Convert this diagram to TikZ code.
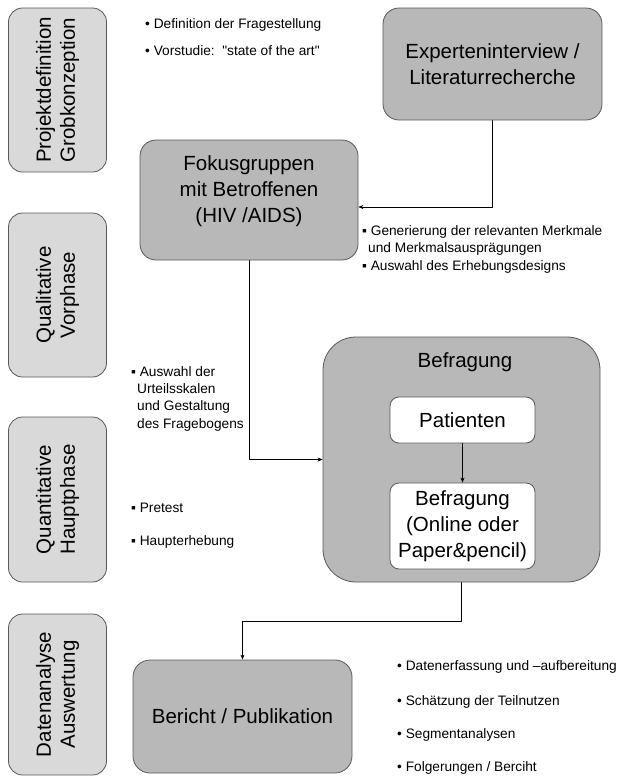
\documentclass[tikz,border=0pt]{standalone}
\usepackage{fontspec}
\setmainfont{Liberation Sans}
\usetikzlibrary{arrows.meta}
\definecolor{phasegray}{gray}{0.85}
\definecolor{blockgray}{gray}{0.72}
\definecolor{framegray}{gray}{0.35}
\newcommand{\bigtext}{\fontsize{20.5}{26}\selectfont}
\newcommand{\phasetext}{\fontsize{20.5}{24}\selectfont}
\newcommand{\smalltext}{\fontsize{13.7}{17.3}\selectfont}

\begin{document}
\begin{tikzpicture}[x=1pt,y=-1pt,line cap=round,line join=round,
    phase/.style={draw=framegray,fill=phasegray,line width=0.8pt,rounded corners=14pt,
      rotate=90,align=center,minimum height=98pt,font=\phasetext,inner sep=0pt},
    block/.style={draw=framegray,fill=blockgray,line width=0.8pt,rounded corners=16pt,
      align=center,font=\bigtext,inner sep=0pt},
    whitebox/.style={draw=framegray,fill=white,line width=0.8pt,rounded corners=9pt,
      align=center,font=\bigtext,inner sep=0pt,minimum width=145pt},
    boxlabel/.style={align=center,font=\bigtext,inner sep=0pt},
    note/.style={anchor=base west,align=left,font=\smalltext,inner sep=0pt},
    link/.style={line width=0.6pt,-{Stealth[length=5pt,width=4pt]}}]
  \path[use as bounding box,fill=white] (0,0) rectangle (618,777);

  % phases on the left
  \node[phase,minimum width=164pt] (projekt) at (57.5,90) {Projektdefinition\\Grobkonzeption};
  \node[phase,minimum width=164pt] (vorphase) at (57.5,295) {Qualitative\\Vorphase};
  \node[phase,minimum width=165pt] (hauptphase) at (57.5,499.5) {Quantitative\\Hauptphase};
  \node[phase,minimum width=161pt] (auswertung) at (57.5,694.5) {Datenanalyse\\Auswertung};

  % steps
  \node[block,minimum width=219pt,minimum height=112pt] (experten) at (492.5,64)
    {Experteninterview /\\Literaturrecherche};
  \node[block,minimum width=218pt,minimum height=120pt] (fokus) at (249,200) {};
  \node[boxlabel] (fokustext) at (249,191) {Fokusgruppen\\mit Betroffenen\\(HIV /AIDS)};
  \node[block,rounded corners=33pt,minimum width=277pt,minimum height=245pt] (befragung) at (461.5,459.5) {};
  \node[boxlabel] (befragungtitel) at (465,362) {Befragung};
  \node[whitebox,minimum height=46pt] (patienten) at (462.5,420) {Patienten};
  \node[whitebox,minimum height=86pt] (online) at (462.5,526)
    {Befragung\\(Online oder\\Paper\&pencil)};
  \node[block,rounded corners=17pt,minimum width=219pt,minimum height=113pt] (bericht) at (242.5,716.5)
    {Bericht / Publikation};

  % notes
  \node[note] (def) at (145,28) {• Definition der Fragestellung};
  \node[note] (vor) at (145,55) {• Vorstudie:\ \ \textquotedbl state of the art\textquotedbl};
  \node[note] (merkmale) at (362,270)
    {▪ Generierung der relevanten Merkmale\\\hspace*{6pt}und Merkmalsausprägungen\\▪ Auswahl des Erhebungsdesigns};
  \node[note] (skalen) at (131,428)
    {▪ Auswahl der\\\hspace*{6pt}Urteilsskalen\\\hspace*{6pt}und Gestaltung\\\hspace*{6pt}des Fragebogens};
  \node[note] (pretest) at (131,512) {▪ Pretest};
  \node[note] (haupt) at (131,545) {▪ Haupterhebung};
  \node[note] (daten) at (397,670) {• Datenerfassung und –aufbereitung};
  \node[note] (teilnutzen) at (397,705) {• Schätzung der Teilnutzen};
  \node[note] (segment) at (397,738) {• Segmentanalysen};
  \node[note] (folgerung) at (397,771) {• Folgerungen / Berciht};

  % connectors
  \draw[link] (experten.south) |- ([yshift=-7pt]fokus.east);
  \draw[link] (fokus.south) |- (befragung.west);
  \draw[link] (patienten.south) -- (online.north);
  \draw[link] (befragung.south) -- ++(0,39) -| (bericht.north);
\end{tikzpicture}
\end{document}
